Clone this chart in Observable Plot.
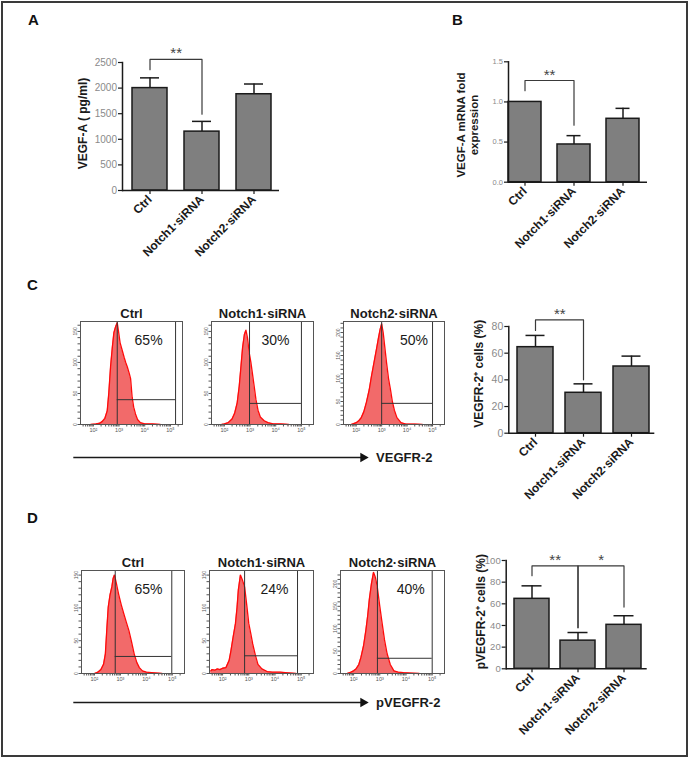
<!DOCTYPE html>
<html><head><meta charset="utf-8">
<script src="https://cdn.jsdelivr.net/npm/d3@7"></script>
<script src="https://cdn.jsdelivr.net/npm/@observablehq/plot@0.6"></script>
<style>
html,body{margin:0;padding:0;background:#fff;}
#fig{position:relative;width:691px;height:761px;font-family:Arial,"Liberation Sans",sans-serif;overflow:hidden;}
#border{position:absolute;left:1px;top:1px;width:683px;height:752px;border:2px solid #3a3a3a;}
.abs{position:absolute;}
.letter{position:absolute;font-weight:bold;font-size:15px;line-height:15px;color:#111;}
</style></head><body>
<div id="fig"><div id="border"></div></div>
<script>
// ---------------- DATA ----------------
const categories = ["Ctrl", "Notch1·siRNA", "Notch2·siRNA"];

// Panel A: VEGF-A (pg/ml)
const vegfA = [2000, 1150, 1880];
const vegfA_sem = [200, 200, 200];
const vegfA_ticks = [0, 500, 1000, 1500, 2000, 2500];
const vegfA_brackets = [{from: "Ctrl", to: "Notch1·siRNA", top: 2560, leftEnd: 2360, rightEnd: 1490, mark: "**"}];

// Panel B: VEGF-A mRNA fold expression
const mrna = [1.0, 0.47, 0.79];
const mrna_sem = [0, 0.11, 0.13];
const mrna_ticks = [0, 0.5, 1.0, 1.5];
const mrna_brackets = [{from: "Ctrl", to: "Notch1·siRNA", top: 1.267, leftEnd: 1.14, rightEnd: 0.71, mark: "**"}];

// Panel C: VEGFR-2+ cells (%)
const vegfr2 = [64.5, 30.3, 50];
const vegfr2_sem = [8.8, 6.7, 7.8];
const pct_ticks_80 = [0, 20, 40, 60, 80];
const vegfr2_brackets = [{from: "Ctrl", to: "Notch1·siRNA", top: 85, leftEnd: 77, rightEnd: 40, mark: "**"}];

// Panel D: pVEGFR-2+ cells (%)
const pvegfr2 = [64.6, 26, 40.6];
const pvegfr2_sem = [12, 7.5, 8.4];
const pct_ticks_100 = [0, 20, 40, 60, 80, 100];
const pvegfr2_brackets = [
  {from: "Ctrl", to: "Notch1·siRNA", top: 95, leftEnd: 86, rightEnd: 38, mark: "**"},
  {from: "Notch1·siRNA", to: "Notch2·siRNA", top: 95, leftEnd: 38, rightEnd: 57, mark: "*"}
];

// Flow cytometry histograms: [log10 fluorescence, count]
const histC_ctrl = [[1.9,0],[2.1,1],[2.25,2],[2.35,5],[2.45,10],[2.54,22],[2.6,50],[2.67,93],[2.74,125],[2.8,148],[2.87,158],[2.93,164],[2.98,150],[3.04,132],[3.12,120],[3.2,108],[3.26,100],[3.32,93],[3.4,82],[3.45,74],[3.51,44],[3.57,28],[3.64,17],[3.72,8],[3.83,3],[4.0,1],[4.3,1],[4.6,0]];
const histC_n1 = [[1.9,0],[2.0,1],[2.15,3],[2.3,9],[2.4,18],[2.5,35],[2.58,62],[2.65,95],[2.71,124],[2.78,145],[2.84,152],[2.9,140],[2.97,115],[3.03,101],[3.1,80],[3.16,62],[3.23,40],[3.31,23],[3.4,12],[3.55,6],[3.7,3],[3.9,1],[4.2,1],[4.5,0]];
const histC_n2 = [[1.8,0],[1.9,2],[2.0,4],[2.1,8],[2.2,15],[2.3,28],[2.4,48],[2.51,75],[2.6,105],[2.7,135],[2.8,165],[2.87,187],[2.94,207],[3.0,219],[3.06,200],[3.12,170],[3.19,135],[3.27,100],[3.35,75],[3.42,50],[3.5,31],[3.6,15],[3.76,4],[3.95,1],[4.3,1],[4.6,0]];
const histD_ctrl = [[2.0,0],[2.13,2],[2.25,6],[2.35,14],[2.42,30],[2.48,70],[2.53,101],[2.6,120],[2.67,132],[2.72,145],[2.77,150],[2.83,140],[2.93,121],[3.03,105],[3.13,91],[3.23,78],[3.33,65],[3.43,48],[3.53,30],[3.63,17],[3.73,9],[3.85,4],[4.0,2],[4.3,1],[4.6,0]];
const histD_n1 = [[1.55,4],[1.6,6],[1.7,5],[1.8,7],[1.9,6],[2.0,8],[2.13,9],[2.25,20],[2.32,35],[2.4,55],[2.49,76],[2.55,100],[2.6,127],[2.68,150],[2.76,142],[2.84,132],[2.92,105],[3.0,76],[3.08,60],[3.15,45],[3.25,28],[3.35,14],[3.5,7],[3.7,3],[3.9,2],[4.2,2],[4.5,1],[4.8,0]];
const histD_n2 = [[1.75,0],[1.9,3],[2.0,6],[2.09,10],[2.2,20],[2.28,36],[2.38,62],[2.47,97],[2.54,130],[2.6,165],[2.68,200],[2.76,226],[2.83,215],[2.9,195],[3.0,150],[3.09,112],[3.18,75],[3.28,44],[3.4,20],[3.54,6],[3.7,3],[3.9,2],[4.2,1],[4.5,0]];

const percentC = ["65%", "30%", "50%"];
const percentD = ["65%", "24%", "40%"];
const decadeLabels = {100: "10²", 1000: "10³", 10000: "10⁴", 100000: "10⁵"};

// ---------------- RENDERING ----------------
const FONT = 'Arial, "Liberation Sans", sans-serif';
const fig = document.getElementById("fig");
function place(node, left, top) {
  const d = document.createElement("div");
  d.className = "abs"; d.style.left = left + "px"; d.style.top = top + "px";
  d.appendChild(node); fig.appendChild(d);
}
function letter(t, left, top) {
  const d = document.createElement("div");
  d.className = "letter"; d.textContent = t; d.style.left = left + "px"; d.style.top = top + "px";
  fig.appendChild(d);
}
letter("A", 28, 12); letter("B", 452, 12); letter("C", 27, 277); letter("D", 27, 510);

function barPanel(cfg) {
  const [L, T, W, H] = cfg.box;
  const rows = categories.map((c, i) => ({cat: c, value: cfg.values[i], sem: cfg.sem[i]}));
  const withErr = rows.filter(d => d.sem > 0);
  const step = (cfg.barX[1] - cfg.barX[0]) / (categories.length - cfg.pi);
  const bpts = [];
  cfg.brackets.forEach((b, k) => {
    bpts.push({k, cat: b.from, y: b.leftEnd}, {k, cat: b.from, y: b.top}, {k, cat: b.to, y: b.top}, {k, cat: b.to, y: b.rightEnd});
  });
  const svg = Plot.plot({
    width: W, height: H,
    marginLeft: cfg.axisX[0] - L, marginRight: L + W - cfg.axisX[1],
    marginTop: cfg.yPix[1] - T, marginBottom: T + H - cfg.yPix[0],
    style: {background: "transparent", overflow: "visible", fontFamily: FONT},
    x: {type: "band", domain: categories, range: [cfg.barX[0] - L, cfg.barX[1] - L], paddingInner: cfg.pi, paddingOuter: 0},
    y: {domain: [0, cfg.ymax]},
    marks: [
      Plot.ruleX(withErr, {x: "cat", y1: "value", y2: d => d.value + d.sem, stroke: "#1a1a1a", strokeWidth: 1.5}),
      Plot.tickY(withErr, {x: "cat", y: d => d.value + d.sem, insetLeft: cfg.cap, insetRight: cfg.cap, stroke: "#1a1a1a", strokeWidth: 1.5}),
      Plot.barY(rows, {x: "cat", y: "value", fill: "#7f7f7f", stroke: "#1a1a1a", strokeWidth: 1.5}),
      Plot.ruleY([0], {stroke: "#1a1a1a", strokeWidth: 1.5}),
      Plot.frame({anchor: "left", stroke: "#1a1a1a", strokeWidth: 1.5}),
      Plot.axisY({ticks: cfg.yticks, tickFormat: cfg.yfmt, tickSize: 4, tickPadding: 1.5, fontSize: cfg.tickFont, fill: "#8a8a8a", stroke: "#1a1a1a", strokeWidth: 1.2, label: null}),
      Plot.axisX({tickRotate: -45, tickSize: 4, tickPadding: 3, fontSize: 12, fontWeight: "bold", fill: "#1a1a1a", stroke: "#1a1a1a", strokeWidth: 1.2, label: null}),
      Plot.line(bpts, {x: "cat", y: "y", z: "k", stroke: "#3a3a3a", strokeWidth: 1.2}),
      Plot.text(cfg.brackets, {x: "from", y: "top", text: "mark", dx: step / 2, dy: -1, lineAnchor: "bottom", fontSize: 15, fill: "#444"}),
      Plot.text([cfg.ylabel], {frameAnchor: "left", rotate: -90, dx: cfg.ylabelDx, dy: cfg.ylabelDy || 0, textAnchor: "middle", lineAnchor: "middle", fontWeight: "bold", fontSize: cfg.labelFont, fill: "#1a1a1a", lineHeight: 1.15})
    ]
  });
  place(svg, L, T);
}

barPanel({box: [40, 30, 260, 240], axisX: [122, 279], barX: [131.7, 271.3], pi: 0.33, yPix: [190, 62], ymax: 2500,
  values: vegfA, sem: vegfA_sem, yticks: vegfA_ticks, yfmt: d3.format("d"), tickFont: 10, brackets: vegfA_brackets,
  ylabel: "VEGF-A ( pg/ml)", ylabelDx: -40, ylabelDy: -3, cap: 8, labelFont: 12});
barPanel({box: [420, 30, 250, 240], axisX: [508, 647], barX: [508, 639], pi: 0.336, yPix: [181.7, 61.3], ymax: 1.5,
  values: mrna, sem: mrna_sem, yticks: mrna_ticks, yfmt: d3.format(".1f"), tickFont: 7.5, brackets: mrna_brackets,
  ylabel: "VEGF-A mRNA fold\nexpression", ylabelDx: -41, ylabelDy: 3, cap: 9.5, labelFont: 11.5});
barPanel({box: [460, 290, 220, 220], axisX: [508.3, 654.3], barX: [515.7, 649.3], pi: 0.256, yPix: [432.7, 326], ymax: 80,
  values: vegfr2, sem: vegfr2_sem, yticks: pct_ticks_80, yfmt: d3.format("d"), tickFont: 10.5, brackets: vegfr2_brackets,
  ylabel: "VEGFR-2⁺ cells (%)", ylabelDx: -30, ylabelDy: -6, cap: 8.5, labelFont: 12});
barPanel({box: [460, 530, 220, 215], axisX: [505.7, 646.7], barX: [513.3, 641.7], pi: 0.23, yPix: [668.3, 560], ymax: 100,
  values: pvegfr2, sem: pvegfr2_sem, yticks: pct_ticks_100, yfmt: d3.format("d"), tickFont: 9.5, brackets: pvegfr2_brackets,
  ylabel: "pVEGFR-2⁺ cells (%)", ylabelDx: -26, ylabelDy: -3, cap: 7.5, labelFont: 12});

const xDomain = [10 ** 1.5, 10 ** 5.47];
const xTicks = d3.scaleLog().domain(xDomain).ticks();
function histogram(cfg) {
  const mL = 22, mR = 8, mT = 26, mB = 16;
  const fw = cfg.fx[1] - cfg.fx[0], fh = cfg.fy[1] - cfg.fy[0];
  const acc = {x: d => 10 ** d[0], y: d => d[1]};
  const svg = Plot.plot({
    width: fw + mL + mR, height: fh + mT + mB,
    marginLeft: mL, marginRight: mR, marginTop: mT, marginBottom: mB,
    style: {background: "transparent", overflow: "visible", fontFamily: FONT},
    x: {type: "log", domain: xDomain},
    y: {domain: [0, cfg.ymax]},
    marks: [
      Plot.areaY(cfg.data, {...acc, fill: "#f26a6a"}),
      Plot.lineY(cfg.data, {...acc, stroke: "#ff0a0a", strokeWidth: 1.3}),
      Plot.ruleX([10 ** cfg.gate, 10 ** cfg.gateR], {stroke: "#333", strokeWidth: 1}),
      Plot.ruleY([{y: cfg.gateY, x1: 10 ** cfg.gate, x2: 10 ** cfg.gateR}], {y: "y", x1: "x1", x2: "x2", stroke: "#333", strokeWidth: 1}),
      Plot.frame({stroke: "#555", strokeWidth: 1}),
      Plot.axisX({ticks: xTicks, tickSize: 2.5, tickPadding: 1, tickFormat: d => decadeLabels[Math.round(d)] || "", fontSize: 5.5, fill: "#555", stroke: "#555", label: null}),
      Plot.axisY({ticks: d3.range(0, cfg.ymax, 10), tickSize: 2.5, tickPadding: 1, tickRotate: -90, tickFormat: d => d % 50 === 0 ? d : "", fontSize: 5, fill: "#555", stroke: "#555", label: null}),
      Plot.text([cfg.title], {frameAnchor: "top", dy: -13, fontWeight: "bold", fontSize: 13, fill: "#1a1a1a"}),
      Plot.text([cfg.pct], {x: 10 ** cfg.pctX, frameAnchor: "top", dy: 14, fontSize: 14, fill: "#1a1a1a"})
    ]
  });
  place(svg, cfg.fx[0] - mL, cfg.fy[0] - mT);
}

histogram({fx: [80, 182], fy: [321, 424], ymax: 166, data: histC_ctrl, gate: 2.93, gateR: 5.2, gateY: 40, title: categories[0], pct: percentC[0], pctX: 4.15});
histogram({fx: [211, 313], fy: [321, 424], ymax: 166, data: histC_n1, gate: 2.98, gateR: 5.0, gateY: 34, title: categories[1], pct: percentC[1], pctX: 3.99});
histogram({fx: [343, 444], fy: [321, 424], ymax: 224, data: histC_n2, gate: 3.0, gateR: 5.0, gateY: 46, title: categories[2], pct: percentC[2], pctX: 4.27});
histogram({fx: [81, 184], fy: [570, 673], ymax: 157, data: histD_ctrl, gate: 2.8, gateR: 4.98, gateY: 26, title: categories[0], pct: percentD[0], pctX: 4.08});
histogram({fx: [209, 313], fy: [570, 673], ymax: 157, data: histD_n1, gate: 2.84, gateR: 4.86, gateY: 27, title: categories[1], pct: percentD[1], pctX: 3.98});
histogram({fx: [340, 444], fy: [570, 673], ymax: 230, data: histD_n2, gate: 2.91, gateR: 5.0, gateY: 34, title: categories[2], pct: percentD[2], pctX: 4.18});

// Axis arrows under the histogram rows
const arrowLabels = ["VEGFR-2", "pVEGFR-2"];
function arrow(label, yCenter) {
  const L = 60, W = 400, H = 30, x0 = 73.3, x1 = 362.6;
  const svg = Plot.plot({
    width: W, height: H, marginLeft: x0 - L, marginRight: L + W - x1, marginTop: 0, marginBottom: 0,
    style: {background: "transparent", overflow: "visible", fontFamily: FONT},
    x: {domain: [0, 1], axis: null}, y: {domain: [0, 1], axis: null},
    marks: [
      Plot.ruleY([0.5], {x1: 0, x2: 1, stroke: "#1a1a1a", strokeWidth: 1.5}),
      Plot.dot([{x: 1, y: 0.5}], {x: "x", y: "y", symbol: "triangle", rotate: 90, r: 3.6, fill: "#111", stroke: "none"}),
      Plot.text([{x: 1, y: 0.5, t: label}], {x: "x", y: "y", text: "t", dx: 13, textAnchor: "start", fontWeight: "bold", fontSize: 13, fill: "#1a1a1a"})
    ]
  });
  place(svg, L, yCenter - H / 2);
}
arrow(arrowLabels[0], 457.3);
arrow(arrowLabels[1], 701.7);
</script>
</body></html>
